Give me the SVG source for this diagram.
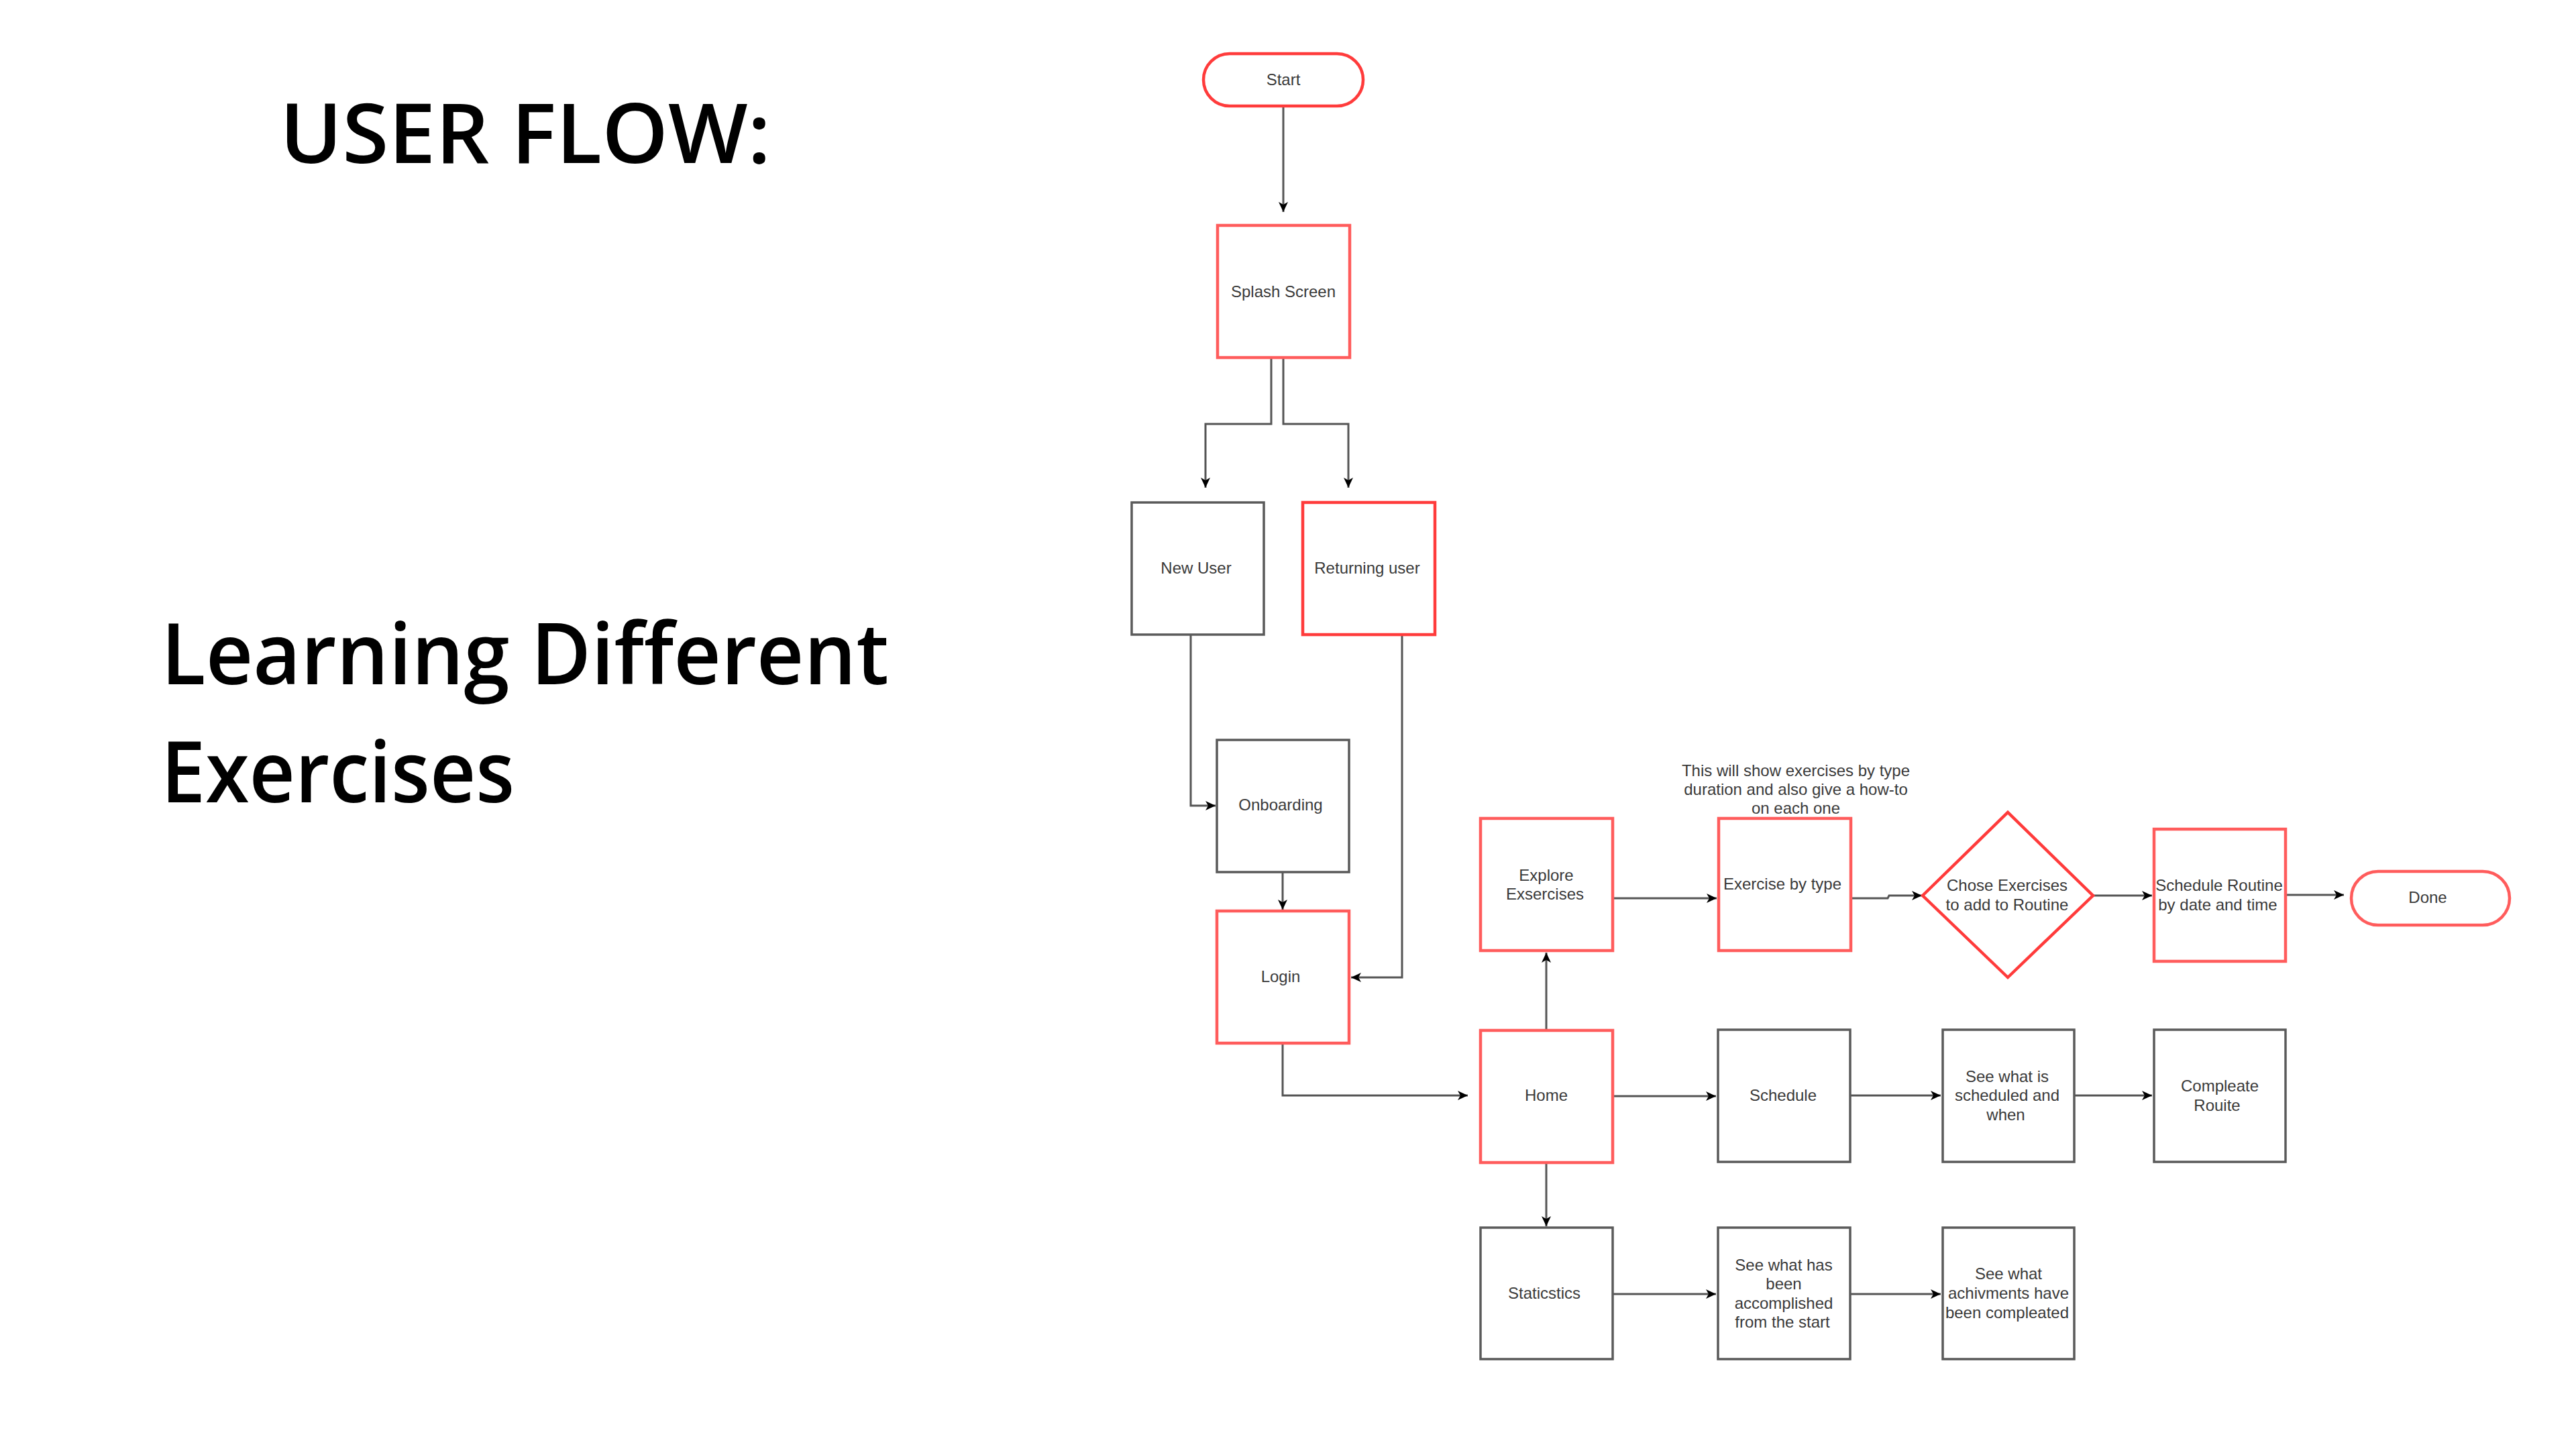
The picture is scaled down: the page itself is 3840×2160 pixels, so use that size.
<svg xmlns="http://www.w3.org/2000/svg" width="3840" height="2160" viewBox="0 0 3840 2160">
<style>
.bg{fill:#ffffff}
.red{fill:#ffffff;stroke:#ff5c5c;stroke-width:4.5}
.red2{fill:#ffffff;stroke:#ff3b3b;stroke-width:4.5}
.gray{fill:#ffffff;stroke:#5a5a5a;stroke-width:3.5}
.lbl{font-family:"Liberation Sans",Arial,sans-serif;font-size:24px;fill:#3a3a3a;text-anchor:middle}
.conn{fill:none;stroke:#555555;stroke-width:3}
.title{font-family:"Open Sans","Noto Sans",sans-serif;fill:#000000;font-weight:600}
</style>
<defs>
<marker id="arr" markerUnits="userSpaceOnUse" markerWidth="16" markerHeight="14" refX="15" refY="7" orient="auto">
<path d="M0,0 L15,7 L0,14 L4,7 Z" fill="#000000"/>
</marker>
</defs>
<rect class="bg" x="0" y="0" width="3840" height="2160"/>
<text class="title" x="417" y="243" font-size="124" textLength="732" lengthAdjust="spacingAndGlyphs">USER FLOW:</text>
<text class="title" x="240" y="1020" font-size="127" textLength="1085" lengthAdjust="spacingAndGlyphs">Learning Different</text>
<text class="title" x="240" y="1196" font-size="127" textLength="527" lengthAdjust="spacingAndGlyphs">Exercises</text>

<g id="connectors">
<path class="conn" d="M1913,158 L1913,316" marker-end="url(#arr)"/>
<path class="conn" d="M1895,534 L1895,632 L1797,632 L1797,727" marker-end="url(#arr)"/>
<path class="conn" d="M1913,534 L1913,632 L2010,632 L2010,727" marker-end="url(#arr)"/>
<path class="conn" d="M1775,946 L1775,1201 L1812,1201" marker-end="url(#arr)"/>
<path class="conn" d="M1912,1300 L1912,1356" marker-end="url(#arr)"/>
<path class="conn" d="M2090,946 L2090,1457 L2014,1457" marker-end="url(#arr)"/>
<path class="conn" d="M1912,1555 L1912,1633 L2188,1633" marker-end="url(#arr)"/>
<path class="conn" d="M2305,1536 L2305,1420" marker-end="url(#arr)"/>
<path class="conn" d="M2404,1339 L2559,1339" marker-end="url(#arr)"/>
<path class="conn" d="M2759,1339 L2814,1339 L2816,1335 L2865,1335" marker-end="url(#arr)"/>
<path class="conn" d="M3120,1335 L3208,1335" marker-end="url(#arr)"/>
<path class="conn" d="M3407,1334 L3494,1334" marker-end="url(#arr)"/>
<path class="conn" d="M2404,1634 L2558,1634" marker-end="url(#arr)"/>
<path class="conn" d="M2758,1633 L2893,1633" marker-end="url(#arr)"/>
<path class="conn" d="M3092,1633 L3208,1633" marker-end="url(#arr)"/>
<path class="conn" d="M2305,1733 L2305,1828" marker-end="url(#arr)"/>
<path class="conn" d="M2404,1929 L2558,1929" marker-end="url(#arr)"/>
<path class="conn" d="M2758,1929 L2893,1929" marker-end="url(#arr)"/>
</g>

<g id="start">
<rect class="red2" x="1794" y="80" width="238" height="78" rx="39"/>
<text class="lbl" x="1913" y="127">Start</text>
</g>
<g id="splash">
<rect class="red" x="1815" y="336" width="197" height="197"/>
<text class="lbl" x="1913" y="443">Splash Screen</text>
</g>
<g id="newuser">
<rect class="gray" x="1687" y="749" width="197" height="197"/>
<text class="lbl" x="1783" y="855">New User</text>
</g>
<g id="returning">
<rect class="red2" x="1942" y="749" width="197" height="197"/>
<text class="lbl" x="2038" y="855">Returning user</text>
</g>
<g id="onboarding">
<rect class="gray" x="1814" y="1103" width="197" height="197"/>
<text class="lbl" x="1909" y="1208">Onboarding</text>
</g>
<g id="login">
<rect class="red" x="1814" y="1358" width="197" height="197"/>
<text class="lbl" x="1909" y="1464">Login</text>
</g>
<g id="home">
<rect class="red" x="2207" y="1536" width="197" height="197"/>
<text class="lbl" x="2305" y="1641">Home</text>
</g>
<g id="explore">
<rect class="red" x="2207" y="1220" width="197" height="197"/>
<text class="lbl" x="2305" y="1313">Explore</text>
<text class="lbl" x="2303" y="1341">Exsercises</text>
</g>
<g id="note">
<text class="lbl" x="2677" y="1157">This will show exercises by type</text>
<text class="lbl" x="2677" y="1185">duration and also give a how-to</text>
<text class="lbl" x="2677" y="1213">on each one</text>
</g>
<g id="exercisetype">
<rect class="red" x="2562" y="1220" width="197" height="197"/>
<text class="lbl" x="2657" y="1326">Exercise by type</text>
</g>
<g id="chose">
<polygon class="red2" points="2866,1335 2993,1211 3120,1335 2993,1457"/>
<text class="lbl" x="2992" y="1328">Chose Exercises</text>
<text class="lbl" x="2992" y="1357">to add to Routine</text>
</g>
<g id="scheduleroutine">
<rect class="red" x="3211" y="1236" width="196" height="197"/>
<text class="lbl" x="3308" y="1328">Schedule Routine</text>
<text class="lbl" x="3306" y="1357">by date and time</text>
</g>
<g id="done">
<rect class="red" x="3505" y="1299" width="236" height="80" rx="40"/>
<text class="lbl" x="3619" y="1346">Done</text>
</g>
<g id="schedule">
<rect class="gray" x="2561" y="1535" width="197" height="197"/>
<text class="lbl" x="2658" y="1641">Schedule</text>
</g>
<g id="seescheduled">
<rect class="gray" x="2896" y="1535" width="196" height="197"/>
<text class="lbl" x="2992" y="1613">See what is</text>
<text class="lbl" x="2992" y="1641">scheduled and</text>
<text class="lbl" x="2990" y="1670">when</text>
</g>
<g id="compleate">
<rect class="gray" x="3211" y="1535" width="196" height="197"/>
<text class="lbl" x="3309" y="1627">Compleate</text>
<text class="lbl" x="3305" y="1656">Rouite</text>
</g>
<g id="statistics">
<rect class="gray" x="2207" y="1830" width="197" height="196"/>
<text class="lbl" x="2302" y="1936">Staticstics</text>
</g>
<g id="accomplished">
<rect class="gray" x="2561" y="1830" width="197" height="196"/>
<text class="lbl" x="2659" y="1894">See what has</text>
<text class="lbl" x="2659" y="1922">been</text>
<text class="lbl" x="2659" y="1951">accomplished</text>
<text class="lbl" x="2657" y="1979">from the start</text>
</g>
<g id="achievements">
<rect class="gray" x="2896" y="1830" width="196" height="196"/>
<text class="lbl" x="2994" y="1907">See what</text>
<text class="lbl" x="2994" y="1936">achivments have</text>
<text class="lbl" x="2992" y="1965">been compleated</text>
</g>
</svg>
